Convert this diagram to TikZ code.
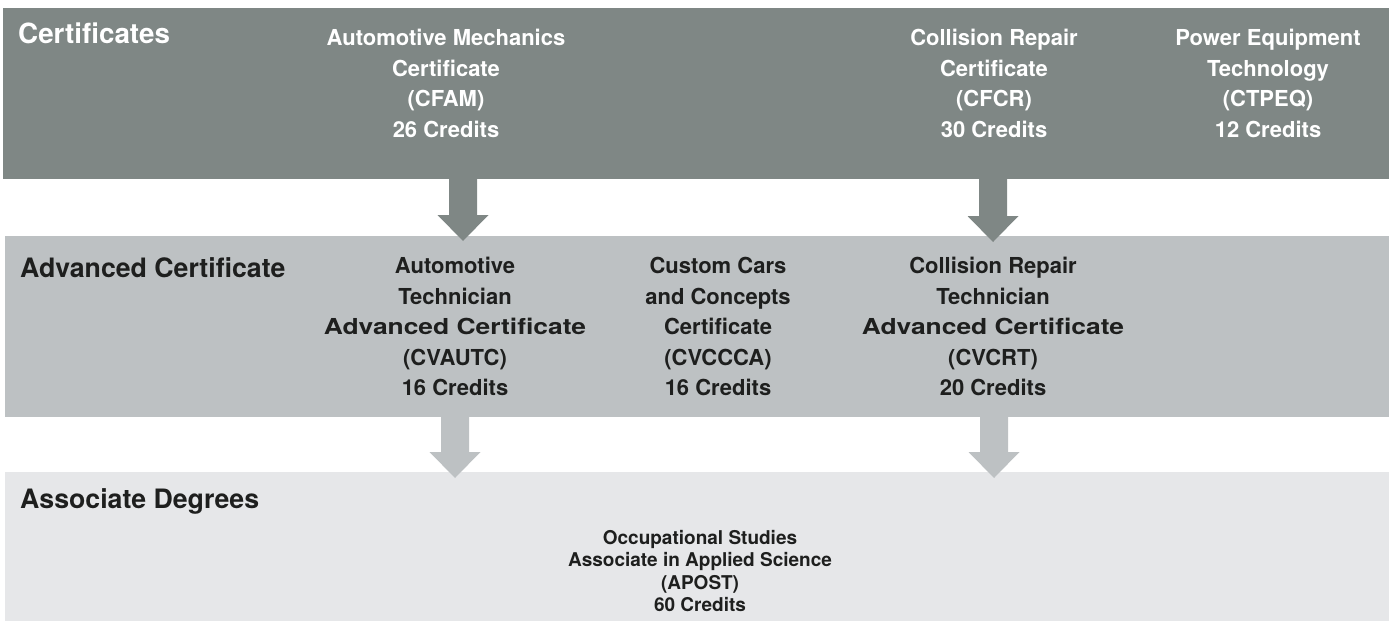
\documentclass[tikz,border=0pt]{standalone}
\usepackage{fontspec}
\setmainfont{TeX Gyre Heros}
\newfontfamily\wideface{TeX Gyre Heros}[FakeStretch=1.2]
\usetikzlibrary{calc}
\definecolor{bandA}{HTML}{7F8785}
\definecolor{bandB}{HTML}{BDC1C3}
\definecolor{bandC}{HTML}{E6E7E9}
\definecolor{inkdark}{HTML}{1E1F1E}
\newcommand{\blkarrow}[3]{%
  \fill[#3] let \p1=(#1), \p2=(#2) in
    (\x1-14pt,\y1) -- (\x1+14pt,\y1) -- (\x1+14pt,\y2+26pt) -- (\x1+25.5pt,\y2+26pt)
    -- (\x2,\y2) -- (\x1-25.5pt,\y2+26pt) -- (\x1-14pt,\y2+26pt) -- cycle;}
\newcommand{\wideline}[1]{{\wideface\bfseries #1}}
\tikzset{
  band/.style={draw=none, inner sep=0pt, anchor=north west},
  body/.style={align=center, anchor=north, inner sep=0pt,
    font=\fontsize{22}{30.5}\selectfont\bfseries},
  whitetext/.style={text=white},
  darktext/.style={text=inkdark},
  title/.style={anchor=north west, inner sep=0pt,
    font=\fontsize{26.7}{30}\selectfont\bfseries},
}
\begin{document}
\begin{tikzpicture}[x=1pt,y=1pt]
\useasboundingbox (0,0) rectangle (1389,-621);
% bands
\node[band, fill=bandA, minimum width=1386pt, minimum height=171pt] (b1) at (3,-8) {};
\node[band, fill=bandB, minimum width=1384pt, minimum height=181pt] (b2) at (5,-236) {};
\node[band, fill=bandC, minimum width=1384pt, minimum height=149pt] (b3) at (5,-472) {};
% titles
\node[title, whitetext, font=\fontsize{27.8}{32}\selectfont\bfseries] (t1) at (18,-23) {Certificates};
\node[title, darktext] (t2) at (20,-257) {Advanced Certificate};
\node[title, darktext] (t3) at (20,-488) {Associate Degrees};
% certificates
\node[body, whitetext] (cfam) at (446,-29) {Automotive Mechanics\\Certificate\\(CFAM)\\26 Credits};
\node[body, whitetext] (cfcr) at (994,-29) {Collision Repair\\Certificate\\(CFCR)\\30 Credits};
\node[body, whitetext] (ctpeq) at (1268,-29) {Power Equipment\\Technology\\(CTPEQ)\\12 Credits};
% advanced
\node[body, darktext] (cvautc) at (455,-257) {Automotive\\Technician\\\wideline{Advanced Certificate}\\(CVAUTC)\\16 Credits};
\node[body, darktext] (cvccca) at (718,-257) {Custom Cars\\and Concepts\\Certificate\\(CVCCCA)\\16 Credits};
\node[body, darktext] (cvcrt) at (993,-257) {Collision Repair\\Technician\\\wideline{Advanced Certificate}\\(CVCRT)\\20 Credits};
% associate
\node[body, darktext, font=\fontsize{19}{22.5}\selectfont\bfseries] (apost) at (700,-530) {Occupational Studies\\Associate in Applied Science\\(APOST)\\60 Credits};
% arrows
\coordinate (a1s) at (463,-179); \coordinate (a1e) at (463,-241);
\coordinate (a2s) at (993,-179); \coordinate (a2e) at (993,-242);
\coordinate (a3s) at (455,-417); \coordinate (a3e) at (455,-478);
\coordinate (a4s) at (994,-417); \coordinate (a4e) at (994,-478);
\blkarrow{a1s}{a1e}{bandA}
\blkarrow{a2s}{a2e}{bandA}
\blkarrow{a3s}{a3e}{bandB}
\blkarrow{a4s}{a4e}{bandB}
\end{tikzpicture}
\end{document}
